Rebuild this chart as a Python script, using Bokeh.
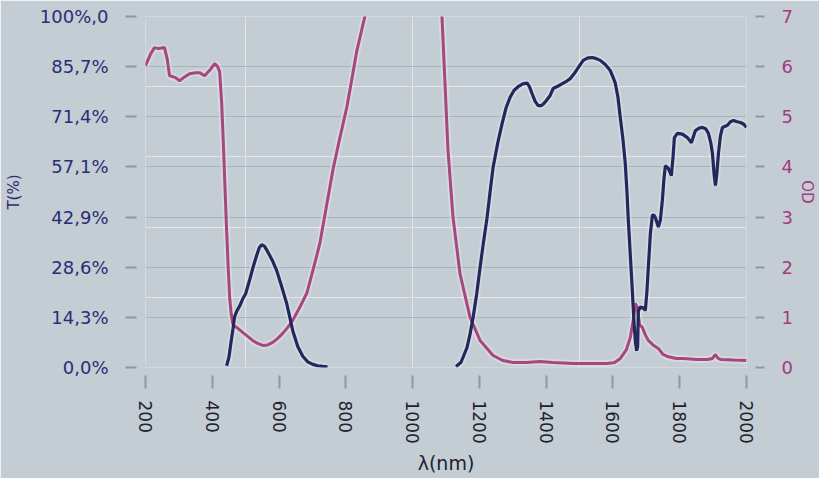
from bokeh.plotting import figure
from bokeh.models import LinearAxis, Range1d, FixedTicker, Grid
from bokeh.embed import file_html
from bokeh.resources import INLINE

# ---- data ----
od_nm = [200, 215, 227, 240, 257, 265, 272, 290, 302, 318, 332, 350, 362, 377, 395, 407, 416, 422,
         428, 433, 438, 443, 448, 452, 457, 461, 467, 473, 491, 506, 521, 536, 551, 566, 581, 596,
         611, 626, 641, 662, 683, 702, 722, 741, 761, 782, 803, 818, 833, 857, 880, 920, 970, 1020,
         1060, 1088, 1097, 1106, 1121, 1142, 1172, 1202, 1241, 1270, 1301, 1340, 1382, 1420, 1481,
         1540, 1583, 1605, 1622, 1640, 1652, 1661, 1667, 1673, 1680, 1688, 1697, 1706, 1720, 1736,
         1750, 1763, 1790, 1811, 1850, 1883, 1898, 1907, 1915, 1922, 1960, 2000]
od_val = [6.02, 6.25, 6.38, 6.36, 6.38, 6.15, 5.82, 5.78, 5.72, 5.80, 5.86, 5.88, 5.88, 5.82, 5.95,
          6.06, 6.00, 5.90, 5.30, 4.50, 3.60, 2.73, 1.95, 1.40, 1.05, 0.88, 0.82, 0.80, 0.70, 0.62,
          0.54, 0.48, 0.44, 0.45, 0.50, 0.58, 0.68, 0.80, 0.94, 1.20, 1.48, 1.95, 2.47, 3.18, 3.93,
          4.58, 5.19, 5.75, 6.32, 7.00, 7.60, 8.00, 8.20, 8.10, 7.50, 7.00, 5.66, 4.33, 3.00, 1.87,
          1.00, 0.54, 0.24, 0.14, 0.10, 0.10, 0.12, 0.10, 0.08, 0.08, 0.08, 0.10, 0.18, 0.35, 0.60,
          0.95, 1.28, 1.20, 0.85, 0.80, 0.65, 0.54, 0.45, 0.38, 0.26, 0.22, 0.18, 0.18, 0.16, 0.16,
          0.18, 0.26, 0.18, 0.16, 0.15, 0.14]

t1_nm = [443, 450, 455, 462, 467, 473, 482, 491, 500, 512, 522, 533, 541, 548, 556, 566, 580, 593,
         608, 623, 633, 641, 656, 671, 686, 701, 716, 731, 745]
t1_val = [0.5, 3, 6.5, 11, 14.5, 16, 17.5, 19.5, 21, 25, 28.5, 32, 34.2, 35, 34.6, 33, 30.5, 27.6,
          23, 18.2, 14, 10.5, 6, 3.2, 1.6, 0.9, 0.5, 0.3, 0.2]

t2_nm = [1130, 1145, 1163, 1172, 1181, 1192, 1202, 1212, 1223, 1232, 1241, 1255, 1268, 1280, 1292,
         1304, 1316, 1330, 1343, 1350, 1358, 1367, 1376, 1385, 1391, 1400, 1412, 1421, 1436, 1451,
         1462, 1472, 1483, 1493, 1502, 1511, 1525, 1538, 1550, 1562, 1577, 1592, 1601, 1607, 1615,
         1622, 1630, 1637, 1642, 1646, 1652, 1658, 1663, 1667, 1671, 1674, 1676, 1681, 1691, 1697,
         1702, 1706, 1712, 1718, 1722, 1727, 1736, 1742, 1748, 1753, 1757, 1766, 1775, 1780, 1784,
         1793, 1808, 1823, 1835, 1847, 1858, 1868, 1878, 1886, 1893, 1898, 1903, 1907, 1911, 1916,
         1922, 1928, 1943, 1952, 1961, 1972, 1982, 1992, 2000]
t2_val = [0.3, 1.5, 5.7, 9.5, 14.2, 21, 28.5, 35.5, 42.7, 50, 57, 64, 69.5, 74, 77,
          79, 80, 80.8, 81, 80, 78, 75.8, 74.6, 74.6, 75, 76, 77.5, 79.5, 80.2, 81,
          81.6, 82.3, 83.6, 85, 86.3, 87.5, 88.2, 88.3, 88, 87.5, 86.3, 84.6, 82.5, 81, 77,
          71.2, 65, 58, 50, 42, 32, 22, 13, 7.5, 4.8, 6, 16, 17.2, 17, 16.2,
          22, 28.5, 38, 43.3, 43.5, 42.7, 40, 42, 47.6, 54, 57.5, 56.7, 54.7, 60, 65.5,
          66.7, 66.5, 65.5, 64, 67.5, 68.2, 68.4, 68, 66.7, 64, 61, 55, 51.8, 55, 61,
          66, 68.4, 69, 70, 70.4, 70, 69.8, 69.3, 68.4]

x_ticks = [200, 400, 600, 800, 1000, 1200, 1400, 1600, 1800, 2000]
od_ticks = [0, 1, 2, 3, 4, 5, 6, 7]
t_labels = ["0,0%", "14,3%", "28,6%", "42,9%", "57,1%", "71,4%", "85,7%", "100%,0"]

# ---- styling ----
BG = "#c4ccd4"
NAVY = "#24275c"
NAVY_TXT = "#2c2c74"
MAG = "#a8467f"
MAG_TXT = "#a13c7e"
DARK = "#20222e"
TICK = "#8e98a1"
GRID = "#a8b3bd"
FONT = "DejaVu Sans"

p = figure(width=819, height=478, output_backend="svg", toolbar_location=None,
           x_range=Range1d(200, 2000), y_range=Range1d(0, 100),
           x_axis_location=None, y_axis_location=None,
           min_border_left=145, min_border_right=73, min_border_top=16, min_border_bottom=111,
           background_fill_color=BG, border_fill_color=BG, outline_line_color=None)
p.extra_y_ranges = {"od": Range1d(0, 7)}

grid = Grid(dimension=1, ticker=FixedTicker(ticks=od_ticks), y_range_name="od",
            grid_line_color=GRID, grid_line_width=1)
p.add_layout(grid)


def style(ax, tin, tout, standoff, color, size):
    ax.axis_line_color = None
    ax.major_tick_in = tin
    ax.major_tick_out = tout
    ax.major_tick_line_color = TICK
    ax.major_tick_line_width = 2
    ax.minor_tick_line_color = None
    ax.major_label_standoff = standoff
    ax.major_label_text_font = FONT
    ax.major_label_text_font_size = size
    ax.major_label_text_color = color
    ax.axis_label_text_font = FONT
    ax.axis_label_text_font_style = "normal"


yl = LinearAxis(y_range_name="od", ticker=FixedTicker(ticks=od_ticks),
                major_label_overrides={t: lab for t, lab in zip(od_ticks, t_labels)},
                axis_label="T(%)")
style(yl, -9, 20, 17, NAVY_TXT, "18px")
yl.axis_label_text_color = NAVY_TXT
yl.axis_label_text_font_size = "15px"
yl.axis_label_standoff = 14
p.add_layout(yl, "left")

yr = LinearAxis(y_range_name="od", ticker=FixedTicker(ticks=od_ticks), axis_label="OD")
style(yr, -9, 18, 17, MAG_TXT, "18px")
yr.axis_label_text_color = MAG_TXT
yr.axis_label_text_font_size = "15px"
yr.axis_label_standoff = 2
p.add_layout(yr, "right")

xb = LinearAxis(ticker=FixedTicker(ticks=x_ticks), axis_label="λ(nm)",
                major_label_orientation="vertical")
style(xb, -8, 21, 12, DARK, "17px")
xb.axis_label_text_color = DARK
xb.axis_label_text_font_size = "19px"
xb.axis_label_standoff = 5
p.add_layout(xb, "below")

# ---- curves ----
p.line(od_nm, od_val, y_range_name="od", line_color="white", line_alpha=0.25, line_width=7)
p.line(t1_nm, t1_val, line_color="white", line_alpha=0.25, line_width=7)
p.line(t2_nm, t2_val, line_color="white", line_alpha=0.25, line_width=7)
p.line(od_nm, od_val, y_range_name="od", line_color=MAG, line_width=3)
p.line(t1_nm, t1_val, line_color=NAVY, line_width=3.2)
p.line(t2_nm, t2_val, line_color=NAVY, line_width=3.2)

open("out.html", "w").write(file_html(p, INLINE))
